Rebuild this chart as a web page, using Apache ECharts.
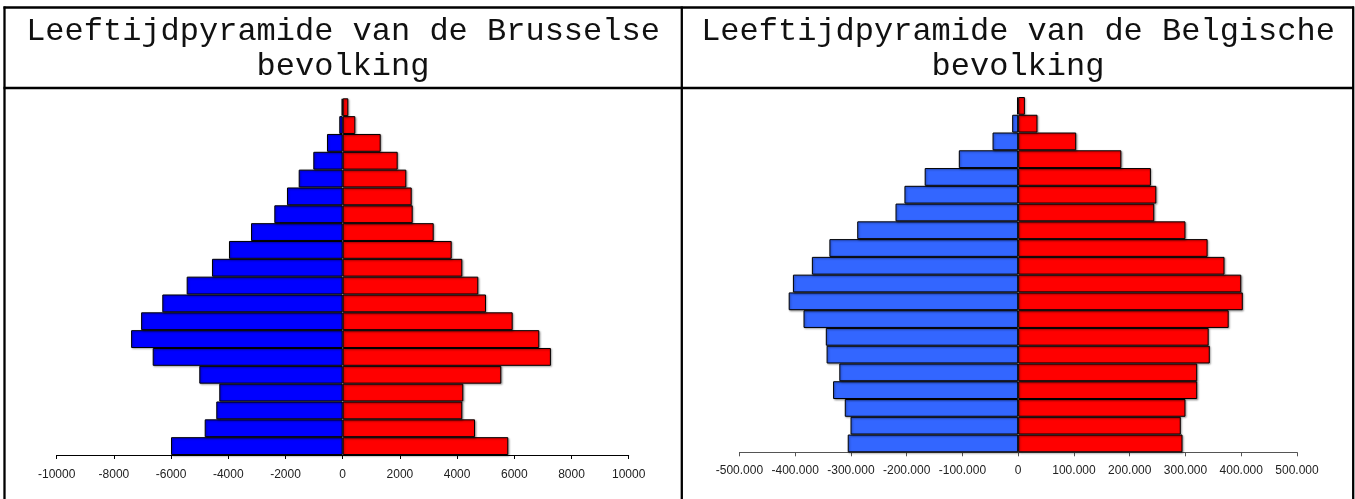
<!DOCTYPE html>
<html>
<head>
<meta charset="utf-8">
<script src="https://cdn.jsdelivr.net/npm/echarts@6/dist/echarts.min.js"></script>
<style>
html,body{margin:0;padding:0;background:#fff;}
#c{width:1355px;height:499px;}
</style>
</head>
<body>
<div id="c"></div>
<script>
// Age groups, bottom (youngest) to top (oldest)
var categories = ['0-4','5-9','10-14','15-19','20-24','25-29','30-34','35-39','40-44','45-49',
  '50-54','55-59','60-64','65-69','70-74','75-79','80-84','85-89','90-94','95+'];

// Brussels population
var brusselsMen = [-6003,-4825,-4420,-4315,-5014,-6643,-7399,-7049,-6308,-5455,
  -4570,-3976,-3206,-2391,-1948,-1538,-1028,-549,-119,-35];
var brusselsWomen = [5790,4626,4182,4217,5545,7280,6874,5944,5010,4741,
  4182,3811,3182,2448,2413,2224,1923,1329,441,196];

// Belgian population
var belgiumMen = [-305700,-300700,-311000,-332000,-320800,-343600,-345000,-385000,-411600,-404000,
  -370000,-338600,-288700,-220000,-204000,-167700,-106500,-46000,-10800,-2000];
var belgiumWomen = [294700,291600,300000,321000,321000,343600,341600,377500,402800,400000,
  370000,339700,300000,244000,247700,238000,185000,104000,34600,12000];

var titles = ['Leeftijdpyramide van de Brusselse\nbevolking', 'Leeftijdpyramide van de Belgische\nbevolking'];
var brusselsTicks = {min: -10000, max: 10000, interval: 2000};
var belgiumTicks = {min: -500000, max: 500000, interval: 100000};

function plainFormat(v) { return String(v); }
function dotFormat(v) {
  if (v === 0) return '0';
  var s = Math.abs(v).toString().replace(/\B(?=(\d{3})+(?!\d))/g, '.');
  return (v < 0 ? '-' : '') + s;
}

var chart = echarts.init(document.getElementById('c'), null, {renderer: 'canvas'});

var barStyle = function (color) {
  return {
    color: color,
    borderColor: '#000',
    borderWidth: 1,
    shadowColor: 'rgba(0,0,0,0.35)',
    shadowBlur: 2,
    shadowOffsetX: 1,
    shadowOffsetY: 1
  };
};

var titleFont = {fontFamily: '"Courier New", "Liberation Mono", monospace', fontWeight: 'normal', fontSize: 32, lineHeight: 35, color: '#111'};

var option = {
  animation: false,
  backgroundColor: '#fff',
  title: [
    {text: titles[0], left: 343, top: 14, textAlign: 'center', padding: 0, textStyle: titleFont},
    {text: titles[1], left: 1018, top: 14, textAlign: 'center', padding: 0, textStyle: titleFont}
  ],
  grid: [
    {left: 56.7, top: 98.3, width: 572, height: 356.7, containLabel: false},
    {left: 739.4, top: 97, width: 557.6, height: 355.3, containLabel: false}
  ],
  xAxis: [
    {gridIndex: 0, type: 'value', min: brusselsTicks.min, max: brusselsTicks.max, interval: brusselsTicks.interval,
     splitLine: {show: false},
     axisLine: {show: true, lineStyle: {color: '#000', width: 1}},
     axisTick: {show: true, length: 4, lineStyle: {color: '#000'}},
     axisLabel: {margin: 14, fontFamily: 'Liberation Sans', fontSize: 12, color: '#222', formatter: plainFormat}},
    {gridIndex: 1, type: 'value', min: belgiumTicks.min, max: belgiumTicks.max, interval: belgiumTicks.interval,
     splitLine: {show: false},
     axisLine: {show: true, lineStyle: {color: '#555', width: 1}},
     axisTick: {show: true, length: 4, lineStyle: {color: '#555'}},
     axisLabel: {margin: 12, fontFamily: 'Liberation Sans', fontSize: 12, color: '#222', formatter: dotFormat}}
  ],
  yAxis: [
    {gridIndex: 0, type: 'category', data: categories, show: false},
    {gridIndex: 1, type: 'category', data: categories, show: false}
  ],
  series: [
    {type: 'bar', xAxisIndex: 0, yAxisIndex: 0, data: brusselsMen, barGap: '-100%', barCategoryGap: 0, itemStyle: barStyle('#0000ff')},
    {type: 'bar', xAxisIndex: 0, yAxisIndex: 0, data: brusselsWomen, barGap: '-100%', barCategoryGap: 0, itemStyle: barStyle('#ff0000')},
    {type: 'bar', xAxisIndex: 1, yAxisIndex: 1, data: belgiumMen, barGap: '-100%', barCategoryGap: 0, itemStyle: barStyle('#3366ff')},
    {type: 'bar', xAxisIndex: 1, yAxisIndex: 1, data: belgiumWomen, barGap: '-100%', barCategoryGap: 0, itemStyle: barStyle('#ff0000')}
  ],
  graphic: [
    {type: 'line', shape: {x1: 3.5, y1: 7.5, x2: 1354, y2: 7.5}, style: {stroke: '#000', lineWidth: 2.3}, silent: true},
    {type: 'line', shape: {x1: 3.5, y1: 88, x2: 1354, y2: 88}, style: {stroke: '#000', lineWidth: 2.3}, silent: true},
    {type: 'line', shape: {x1: 4.5, y1: 6.5, x2: 4.5, y2: 499}, style: {stroke: '#000', lineWidth: 2.3}, silent: true},
    {type: 'line', shape: {x1: 681.8, y1: 6.5, x2: 681.8, y2: 499}, style: {stroke: '#000', lineWidth: 2.3}, silent: true},
    {type: 'line', shape: {x1: 1353.2, y1: 6.5, x2: 1353.2, y2: 499}, style: {stroke: '#000', lineWidth: 2.3}, silent: true}
  ]
};
chart.setOption(option);
</script>
</body>
</html>
